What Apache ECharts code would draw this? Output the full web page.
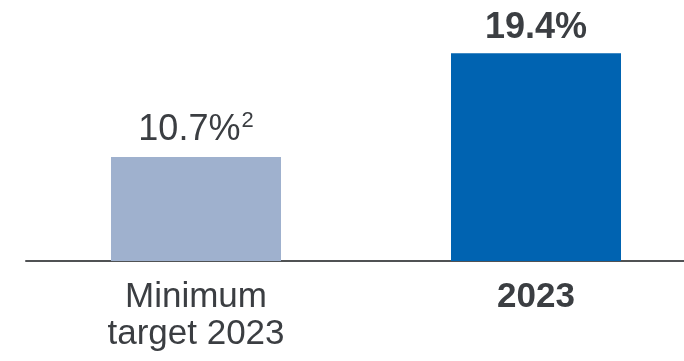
<!DOCTYPE html>
<html>
<head>
<meta charset="utf-8">
<script src="https://cdn.jsdelivr.net/npm/echarts@6/dist/echarts.min.js"></script>
<style>
html,body{margin:0;padding:0;background:#fff;overflow:hidden;width:684px;height:361px;}
#c{width:706px;height:361px;}
</style>
</head>
<body>
<div id="c"></div>
<script>
const categories = ["Minimum\ntarget 2023", "2023"];
const values = [10.7, 19.4];
const valueLabels = ["{n|10.7%}{sup|2}", "{b|19.4%}"];

const chart = echarts.init(document.getElementById('c'), null, {renderer: 'canvas'});
const textColor = '#3b3e42';
const font = '"Liberation Sans", Arial, sans-serif';

chart.setOption({
  animation: false,
  grid: {left: 26, right: 0, top: 46, bottom: 100, containLabel: false},
  xAxis: {
    type: 'category',
    data: categories,
    axisLine: {show: true, lineStyle: {color: '#505254', width: 2}},
    axisTick: {show: false},
    axisLabel: {
      margin: 18,
      fontFamily: font,
      fontSize: 35,
      lineHeight: 37,
      color: textColor,
      formatter: function (v, i) { return i === 1 ? '{bold|' + v + '}' : v; },
      rich: {bold: {fontFamily: font, fontSize: 35, fontWeight: 'bold', color: textColor, lineHeight: 37}}
    }
  },
  yAxis: {
    type: 'value',
    min: 2,
    max: 20,
    show: false,
    splitLine: {show: false}
  },
  series: [{
    type: 'bar',
    barWidth: 170,
    data: values.map((v, i) => ({
      value: v,
      itemStyle: {color: i === 0 ? '#9fb1ce' : '#0063b1'},
      label: {formatter: valueLabels[i]}
    })),
    label: {
      show: true,
      position: 'top',
      distance: 7,
      fontFamily: font,
      color: textColor,
      rich: {
        n: {fontFamily: font, fontSize: 36, color: textColor},
        sup: {fontFamily: font, fontSize: 22, color: textColor, verticalAlign: 'top', padding: [0, 0, 18, 1]},
        b: {fontFamily: font, fontSize: 36, fontWeight: 'bold', color: textColor}
      }
    }
  }]
});
</script>
</body>
</html>
